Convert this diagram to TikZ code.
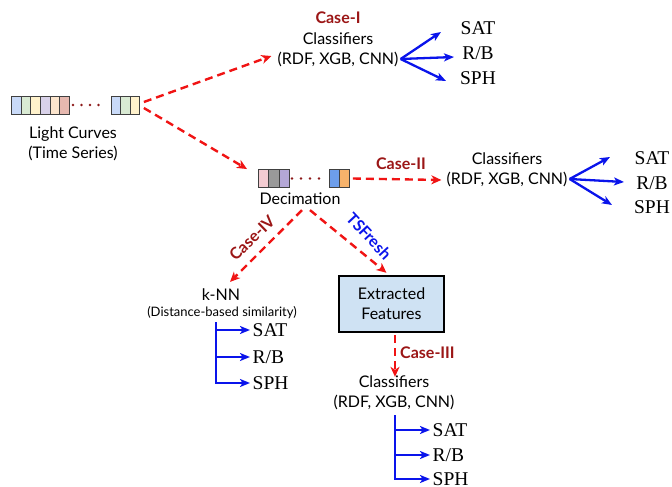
\documentclass[tikz,border=0pt]{standalone}
\usepackage{fontspec}
\setmainfont{Lato}
\newfontfamily\classfont{Liberation Serif}
\usetikzlibrary{arrows.meta}

% palette
\definecolor{casered}{RGB}{155,22,22}
\definecolor{flowred}{RGB}{240,20,20}
\definecolor{outblue}{RGB}{10,20,235}
\definecolor{dotred}{RGB}{140,25,25}
\definecolor{featfill}{RGB}{207,226,243}
\definecolor{lcBlue}{RGB}{201,218,248}
\definecolor{lcGreen}{RGB}{217,234,211}
\definecolor{lcYellow}{RGB}{255,242,204}
\definecolor{lcPurple}{RGB}{217,210,233}
\definecolor{lcPeach}{RGB}{252,229,205}
\definecolor{lcRose}{RGB}{230,184,175}
\definecolor{dPink}{RGB}{244,204,210}
\definecolor{dGray}{RGB}{153,153,153}
\definecolor{dPurple}{RGB}{180,167,214}
\definecolor{dBlue}{RGB}{109,158,235}
\definecolor{dOrange}{RGB}{246,178,107}

\tikzset{
  cell/.style={draw=black!75, line width=0.9pt, inner sep=0pt,
    minimum height=18pt, anchor=west},
  txt/.style={font=\fontsize{16}{20}\selectfont, align=center, inner sep=3pt},
  small/.style={font=\fontsize{13}{15}\selectfont, inner sep=2pt},
  casetag/.style={text=casered, font=\bfseries\fontsize{16}{18}\selectfont, inner sep=1pt},
  tsftag/.style={text=outblue, font=\bfseries\fontsize{16}{18}\selectfont, inner sep=1pt},
  cls/.style={font=\classfont\fontsize{19.5}{20}\selectfont, inner sep=2.5pt, anchor=west},
  flow/.style={draw=flowred, line width=2.4pt, dash pattern=on 8pt off 5pt,
    -{Stealth[length=10pt, width=9pt, inset=3pt]}},
  outarrow/.style={draw=outblue, line width=2.3pt,
    -{Stealth[length=10pt, width=8pt, inset=2.5pt]}},
  featbox/.style={draw=black, line width=2.4pt, fill=featfill,
    minimum width=105pt, minimum height=56pt, align=center,
    font=\fontsize{16}{20}\selectfont},
}

\begin{document}
\begin{tikzpicture}[x=1pt, y=-1pt]
\useasboundingbox (0,0) rectangle (672,487);

% ---- light-curve strip ----
\foreach \c [count=\i from 0] in {lcBlue,lcGreen,lcYellow,lcPurple,lcPeach,lcRose}
  \node[cell, fill=\c, minimum width=9.67pt] (lc\i) at (11+\i*9.67,105) {};
\foreach \x in {73,81.5,90,98.5}
  \fill[dotred] (\x,105) circle (1.3pt);
\foreach \c [count=\i from 6] in {lcBlue,lcGreen,lcYellow}
  \node[cell, fill=\c, minimum width=9.33pt] (lc\i) at (111+\i*9.33-56,105) {};
\node[txt] (lcLabel) at (73,144) {Light Curves\\(Time Series)};

% ---- decimated strip ----
\foreach \c [count=\i from 1] in {dPink,dGray,dPurple}
  \node[cell, fill=\c, minimum width=10.33pt] (dec\i) at (258+\i*10.33-10.33,178.5) {};
\foreach \x in {292,301,310,319}
  \fill[dotred] (\x,178.5) circle (1.3pt);
\foreach \c [count=\i from 4] in {dBlue,dOrange}
  \node[cell, fill=\c, minimum width=10pt] (dec\i) at (329+\i*10-40,178.5) {};
\node[txt] (decLabel) at (300,199) {Decimation};

% ---- Case I ----
\node[casetag] (caseI) at (338,18) {Case-I};
\node[txt] (clsA) at (338,39) {Classifiers};
\node[txt] (rdfA) at (338,59) {(RDF, XGB, CNN)};
\node[cls, anchor=center] (satA) at (478,28) {SAT};
\node[cls, anchor=center] (rbA) at (478,53) {R/B};
\node[cls, anchor=center] (sphA) at (478,78) {SPH};
\coordinate (tA1) at (441,32);
\coordinate (tA2) at (454,57);
\coordinate (tA3) at (446,81);
\draw[flow] ([xshift=4pt,yshift=3pt]lc8.east) -- ([xshift=-3pt,yshift=3pt]rdfA.west);
\draw[outarrow] ([xshift=-1pt]rdfA.east) -- (tA1);
\draw[outarrow] ([xshift=-1pt]rdfA.east) -- (tA2);
\draw[outarrow] ([xshift=-1pt]rdfA.east) -- (tA3);

% ---- to decimation ----
\draw[flow] ([xshift=4pt,yshift=-3pt]lc8.east) -- ([xshift=-11pt]dec1.north west);

% ---- Case II ----
\node[casetag] (caseII) at (401,164) {Case-II};
\node[txt] (clsB) at (507,159) {Classifiers};
\node[txt] (rdfB) at (507,179) {(RDF, XGB, CNN)};
\node[cls, anchor=center] (satB) at (652,158) {SAT};
\node[cls, anchor=center] (rbB) at (652,183) {R/B};
\node[cls, anchor=center] (sphB) at (652,207) {SPH};
\coordinate (tB1) at (610,157);
\coordinate (tB2) at (624,182);
\coordinate (tB3) at (612,205);
\draw[flow] ([xshift=3pt]dec5.east) -- ([xshift=-2pt,yshift=-1pt]rdfB.west);
\draw[outarrow] ([xshift=-1pt]rdfB.east) -- (tB1);
\draw[outarrow] ([xshift=-1pt]rdfB.east) -- (tB2);
\draw[outarrow] ([xshift=-1pt]rdfB.east) -- (tB3);

% ---- Case IV: k-NN ----
\node[txt] (knn) at (221,295) {k-NN};
\node[small] (knnSub) at (222,313) {(Distance-based similarity)};
\node[casetag, rotate=44] (caseIV) at (252,238) {Case-IV};
\draw[flow] ([xshift=2pt,yshift=-2pt]decLabel.south) -- ([xshift=9pt,yshift=4pt]knn.north);
\node[cls] (satK) at (250,330) {SAT};
\node[cls] (rbK) at (250,357) {R/B};
\node[cls] (sphK) at (250,383) {SPH};
\coordinate (kTop) at (216,322);
\draw[outarrow] (kTop) |- (satK.west);
\draw[outarrow] (kTop) |- (rbK.west);
\draw[outarrow] (kTop) |- (sphK.west);

% ---- TSFresh features, Case III ----
\node[featbox] (feat) at (391.5,304) {Extracted\\Features};
\node[tsftag, rotate=-47] (tsf) at (369,236) {TSFresh};
\draw[flow] ([xshift=10pt,yshift=-2pt]decLabel.south) -- ([xshift=-5pt,yshift=2pt]feat.north);
\node[txt] (clsC) at (394,382) {Classifiers};
\node[txt] (rdfC) at (394,402) {(RDF, XGB, CNN)};
\node[casetag, anchor=west] (caseIII) at (399,353) {Case-III};
\draw[flow] ([xshift=3.5pt,yshift=-2pt]feat.south) -- ([xshift=1pt,yshift=-4pt]clsC.north);
\node[cls] (satC) at (430,430) {SAT};
\node[cls] (rbC) at (430,455) {R/B};
\node[cls] (sphC) at (430,479) {SPH};
\coordinate (cTop) at (395,415);
\draw[outarrow] (cTop) |- (satC.west);
\draw[outarrow] (cTop) |- (rbC.west);
\draw[outarrow] (cTop) |- (sphC.west);
\end{tikzpicture}
\end{document}
